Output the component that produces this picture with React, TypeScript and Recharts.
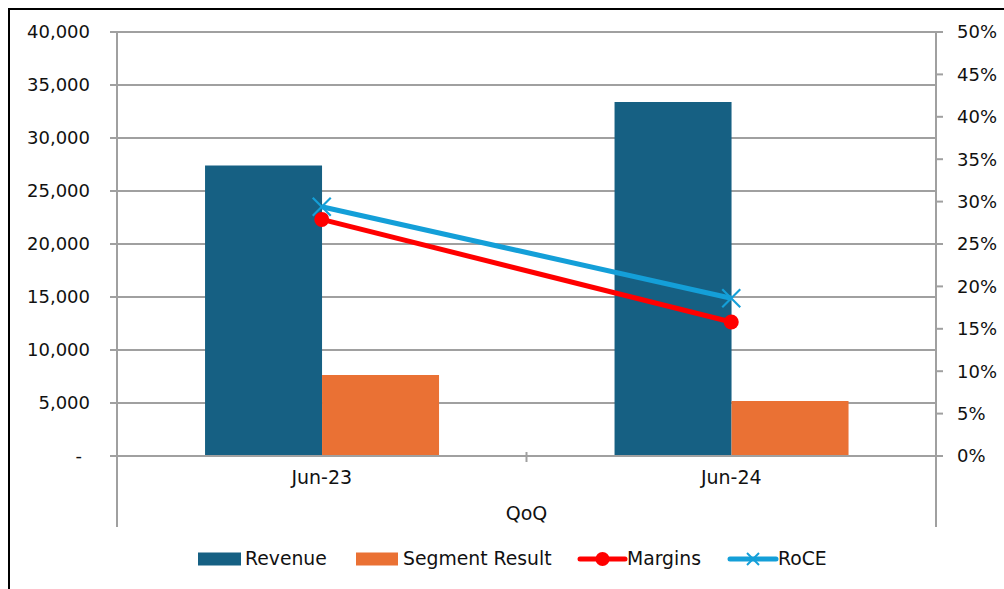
import React from "react";
import { ComposedChart, Bar, Line, XAxis, YAxis, CartesianGrid } from "recharts";

const categories = ["Jun-23", "Jun-24"];
const revenue = [27400, 33400];
const segmentResult = [7650, 5200];
const margins = [0.279, 0.158];
const roce = [0.294, 0.186];
const leftTicks = [0, 5000, 10000, 15000, 20000, 25000, 30000, 35000, 40000];
const rightTicks = [0, 0.05, 0.1, 0.15, 0.2, 0.25, 0.3, 0.35, 0.4, 0.45, 0.5];

const seriesNames = { revenue: "Revenue", segment: "Segment Result", margins: "Margins", roce: "RoCE" };
const colors = { revenue: "#166083", segment: "#EA7134", margins: "#FF0000", roce: "#149FD8" };

const data = categories.map((c, i) => ({
  name: c,
  revenue: revenue[i],
  segment: segmentResult[i],
  margins: margins[i],
  roce: roce[i],
}));

const FONT = "'DejaVu Sans', sans-serif";
const GRID = "#a0a0a0";

const LeftTick = (props: any) => {
  const { x, y, payload } = props;
  const v = payload.value;
  const label = v === 0 ? "-" : v.toLocaleString("en-US");
  return (
    <text x={v === 0 ? x - 8 : x} y={y} dy="0.36em" textAnchor="end" fontSize={18} fontFamily={FONT} fill="#111">
      {label}
    </text>
  );
};

const RightTick = (props: any) => {
  const { x, y, payload } = props;
  return (
    <text x={x} y={y} dy="0.36em" textAnchor="start" fontSize={18} fontFamily={FONT} fill="#111">
      {`${Math.round(payload.value * 100)}%`}
    </text>
  );
};

const XDot = (props: any) => {
  const { cx, cy } = props;
  if (cx == null || cy == null) return null;
  const s = 9;
  return (
    <g>
      <line x1={cx - s} y1={cy - s} x2={cx + s} y2={cy + s} stroke={colors.roce} strokeWidth={2.2} />
      <line x1={cx - s} y1={cy + s} x2={cx + s} y2={cy - s} stroke={colors.roce} strokeWidth={2.2} />
    </g>
  );
};

const legendText: React.CSSProperties = {
  position: "absolute",
  top: 0,
  fontFamily: FONT,
  fontSize: 18.8,
  lineHeight: "20px",
  color: "#111",
  whiteSpace: "nowrap",
};

export default function App() {
  return (
    <div
      style={{
        position: "fixed",
        left: 8,
        top: 8,
        width: 996,
        height: 600,
        boxSizing: "border-box",
        borderLeft: "2px solid #000",
        borderTop: "2px solid #000",
        background: "#fff",
      }}
    >
      <div style={{ position: "absolute", left: 0, top: 0 }}>
        <ComposedChart
          width={994}
          height={579}
          data={data}
          margin={{ top: 22, right: 0, bottom: 53, left: 0 }}
          barCategoryGap="21.5%"
          barGap={0}
        >
          <CartesianGrid yAxisId="left" vertical={false} stroke={GRID} strokeWidth={2} />
          <XAxis
            dataKey="name"
            xAxisId={0}
            height={80}
            tickLine={false}
            tickSize={0}
            tickMargin={15}
            axisLine={{ stroke: GRID, strokeWidth: 2 }}
            tick={{ fontSize: 19, fontFamily: FONT, fill: "#111" }}
            label={{ value: "QoQ", position: "insideBottom", offset: 16, fontSize: 19, fontFamily: FONT, fill: "#111" }}
          />
          <YAxis
            yAxisId="left"
            width={107}
            domain={[0, 40000]}
            ticks={leftTicks}
            interval={0}
            tickSize={7}
            tickMargin={20}
            axisLine={{ stroke: GRID, strokeWidth: 2 }}
            tickLine={{ stroke: GRID, strokeWidth: 2 }}
            tick={<LeftTick />}
          />
          <YAxis
            yAxisId="right"
            orientation="right"
            width={68}
            domain={[0, 0.5]}
            ticks={rightTicks}
            interval={0}
            tickSize={7}
            tickMargin={14}
            axisLine={{ stroke: GRID, strokeWidth: 2 }}
            tickLine={{ stroke: GRID, strokeWidth: 2 }}
            tick={<RightTick />}
          />
          <Bar yAxisId="left" dataKey="revenue" name={seriesNames.revenue} fill={colors.revenue} isAnimationActive={false} />
          <Bar yAxisId="left" dataKey="segment" name={seriesNames.segment} fill={colors.segment} isAnimationActive={false} />
          <Line
            yAxisId="right"
            dataKey="margins"
            name={seriesNames.margins}
            stroke={colors.margins}
            strokeWidth={5}
            dot={{ r: 7.5, fill: colors.margins, stroke: "none" }}
            activeDot={false}
            isAnimationActive={false}
          />
          <Line
            yAxisId="right"
            dataKey="roce"
            name={seriesNames.roce}
            stroke={colors.roce}
            strokeWidth={5}
            dot={<XDot />}
            activeDot={false}
            isAnimationActive={false}
          />
        </ComposedChart>
      </div>
      <svg width={994} height={579} style={{ position: "absolute", left: 0, top: 0, pointerEvents: "none" }}>
        <line x1={107} y1={446} x2={107} y2={517} stroke={GRID} strokeWidth={2} />
        <line x1={926} y1={446} x2={926} y2={517} stroke={GRID} strokeWidth={2} />
        <line x1={516.5} y1={442} x2={516.5} y2={452} stroke={GRID} strokeWidth={2} />
        {/* legend swatches */}
        <rect x={188} y={542.5} width={43} height={13} fill={colors.revenue} />
        <rect x={346} y={542.5} width={42} height={13} fill={colors.segment} />
        <line x1={570} y1={549} x2={615} y2={549} stroke={colors.margins} strokeWidth={5} strokeLinecap="round" />
        <circle cx={592.5} cy={549} r={7} fill={colors.margins} />
        <line x1={720} y1={549} x2={766} y2={549} stroke={colors.roce} strokeWidth={5} strokeLinecap="round" />
        <line x1={737} y1={543} x2={749} y2={555} stroke={colors.roce} strokeWidth={2} />
        <line x1={737} y1={555} x2={749} y2={543} stroke={colors.roce} strokeWidth={2} />
      </svg>
      <div style={{ position: "absolute", left: 0, top: 539, width: 994, height: 20 }}>
        <span style={{ ...legendText, left: 235 }}>{seriesNames.revenue}</span>
        <span style={{ ...legendText, left: 393 }}>{seriesNames.segment}</span>
        <span style={{ ...legendText, left: 617 }}>{seriesNames.margins}</span>
        <span style={{ ...legendText, left: 768 }}>{seriesNames.roce}</span>
      </div>
    </div>
  );
}
